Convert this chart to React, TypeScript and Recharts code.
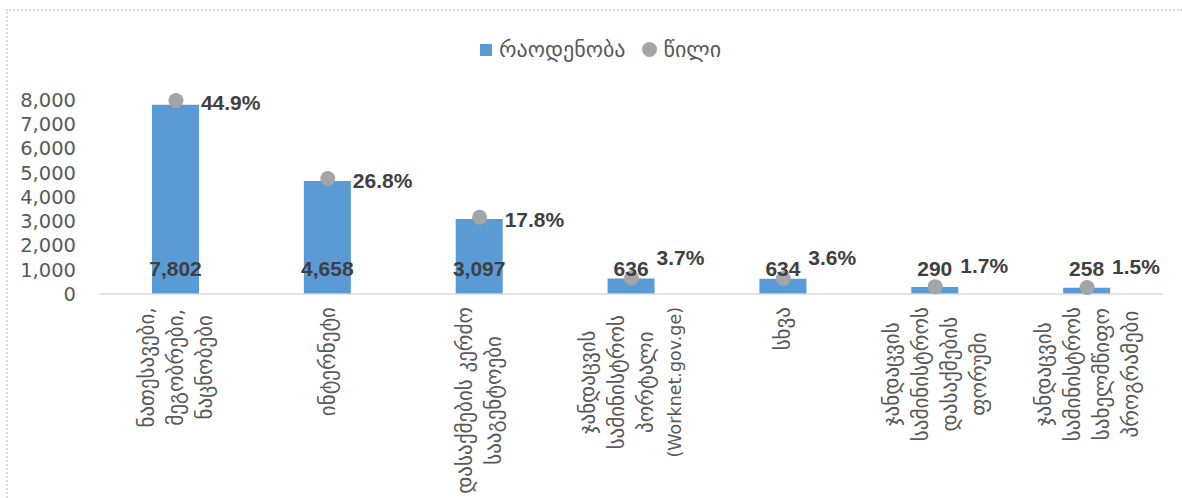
import React from 'react'
import {
  ComposedChart,
  Bar,
  Scatter,
  XAxis,
  YAxis,
  LabelList,
} from 'recharts'

const categories = [
  'ნათესავები,\nმეგობრები,\nნაცნობები',
  'ინტერნეტი',
  'დასაქმების კერძო\nსააგენტოები',
  'ჯანდაცვის\nსამინისტროს\nპორტალი\n(Worknet.gov.ge)',
  'სხვა',
  'ჯანდაცვის\nსამინისტროს\nდასაქმების\nფორუმი',
  'ჯანდაცვის\nსამინისტროს\nსახელმწიფო\nპროგრამები',
]
const counts = [7802, 4658, 3097, 636, 634, 290, 258]
const shares = [0.449, 0.268, 0.178, 0.037, 0.036, 0.017, 0.015]
const countTicks = [0, 1000, 2000, 3000, 4000, 5000, 6000, 7000, 8000]

const countName = 'რაოდენობა'
const shareName = 'წილი'

const BAR = '#5b9bd5'
const DOT = '#a5a5a5'
const GREY = '#595959'
const DARK = '#404040'
const GEO_FONT = '"DejaVu Sans", sans-serif'
const NUM_FONT = '"Liberation Sans", Arial, sans-serif'

const data = categories.map((name, i) => ({
  name,
  count: counts[i],
  share: shares[i],
}))

let ctx: CanvasRenderingContext2D | null = null
function textWidth(s: string, font: string) {
  if (!ctx) ctx = document.createElement('canvas').getContext('2d')
  if (!ctx) return s.length * 10
  ctx.font = font
  return ctx.measureText(s).width
}

// georgian glyphs in DejaVu run small, latin lines keep a smaller size
const lineSize = (s: string) => (/[A-Za-z]/.test(s) ? 17.5 : 21)

function CategoryTick(props: any) {
  const { x, y, payload } = props
  const lines = String(payload.value).split('\n')
  const maxW = Math.max(...lines.map((l) => textWidth(l, `${lineSize(l)}px "DejaVu Sans"`)))
  const cy = y + 13 + maxW / 2
  const step = 29
  return (
    <g>
      {lines.map((line, i) => {
        const lx = x + (i - (lines.length - 1) / 2) * step
        return (
          <text
            key={i}
            transform={`translate(${lx},${cy}) rotate(-90)`}
            textAnchor="middle"
            dominantBaseline="central"
            fill={GREY}
            fontSize={lineSize(line)}
            fontFamily={GEO_FONT}
          >
            {line}
          </text>
        )
      })}
    </g>
  )
}

function CountLabel(props: any) {
  const { x, y, width, height, value } = props
  return (
    <text
      x={x + width / 2}
      y={y + height - 26}
      textAnchor="middle"
      dominantBaseline="central"
      fill={DARK}
      fontSize={21}
      fontWeight="bold"
      fontFamily={NUM_FONT}
    >
      {Number(value).toLocaleString('en-US')}
    </text>
  )
}

function ShareDot(props: any) {
  const { cx, cy, payload } = props
  const v = payload.share
  const dy = v < 0.05 ? -21 : 2
  return (
    <g>
      <circle cx={cx} cy={cy} r={7.5} fill={DOT} />
      <text
        x={cx + 25}
        y={cy + dy}
        dominantBaseline="central"
        fill={DARK}
        fontSize={21}
        fontWeight="bold"
        fontFamily={NUM_FONT}
      >
        {(v * 100).toFixed(1) + '%'}
      </text>
    </g>
  )
}

function ChartLegend() {
  return (
    <div
      style={{
        position: 'absolute',
        left: 480,
        top: 37,
        display: 'flex',
        alignItems: 'center',
        fontFamily: GEO_FONT,
        fontSize: 22,
        color: GREY,
        whiteSpace: 'nowrap',
      }}
    >
      <span style={{ width: 12, height: 12, background: BAR, display: 'inline-block', marginRight: 7 }} />
      <span>{countName}</span>
      <span
        style={{
          width: 15,
          height: 15,
          borderRadius: 8,
          background: DOT,
          display: 'inline-block',
          marginLeft: 16,
          marginRight: 7,
        }}
      />
      <span>{shareName}</span>
    </div>
  )
}

export default function App() {
  return (
    <div style={{ position: 'absolute', left: 0, top: 0, width: 1182, height: 498, background: '#fff' }}>
      <div
        style={{
          position: 'absolute',
          left: 6,
          top: 9,
          right: 0,
          bottom: 0,
          borderTop: '2px dotted #d9d9d9',
          borderLeft: '2px dotted #d9d9d9',
        }}
      />
      <ChartLegend />
      <div style={{ position: 'absolute', left: 0, top: 0 }}>
        <ComposedChart
          width={1182}
          height={498}
          data={data}
          margin={{ top: 100, right: 19, bottom: 0, left: 0 }}
        >
          <XAxis
            dataKey="name"
            interval={0}
            height={204}
            tickSize={0}
            tickMargin={0}
            axisLine={{ stroke: '#d9d9d9', strokeWidth: 1.5 }}
            tick={<CategoryTick />}
          />
          <YAxis
            yAxisId="left"
            width={100}
            domain={[0, 8000]}
            ticks={countTicks}
            interval={0}
            axisLine={false}
            tickLine={false}
            tickSize={0}
            tickMargin={24}
            tickFormatter={(v: number) => v.toLocaleString('en-US')}
            tick={{ fill: GREY, fontSize: 19.5, fontFamily: '"DejaVu Sans", sans-serif' }}
          />
          <YAxis yAxisId="right" orientation="right" hide domain={[0, 0.45]} />
          <Bar yAxisId="left" dataKey="count" name={countName} fill={BAR} barSize={47} isAnimationActive={false}>
            <LabelList dataKey="count" content={<CountLabel />} />
          </Bar>
          <Scatter
            yAxisId="right"
            dataKey="share"
            name={shareName}
            fill={DOT}
            shape={<ShareDot />}
            isAnimationActive={false}
          />
        </ComposedChart>
      </div>
    </div>
  )
}
